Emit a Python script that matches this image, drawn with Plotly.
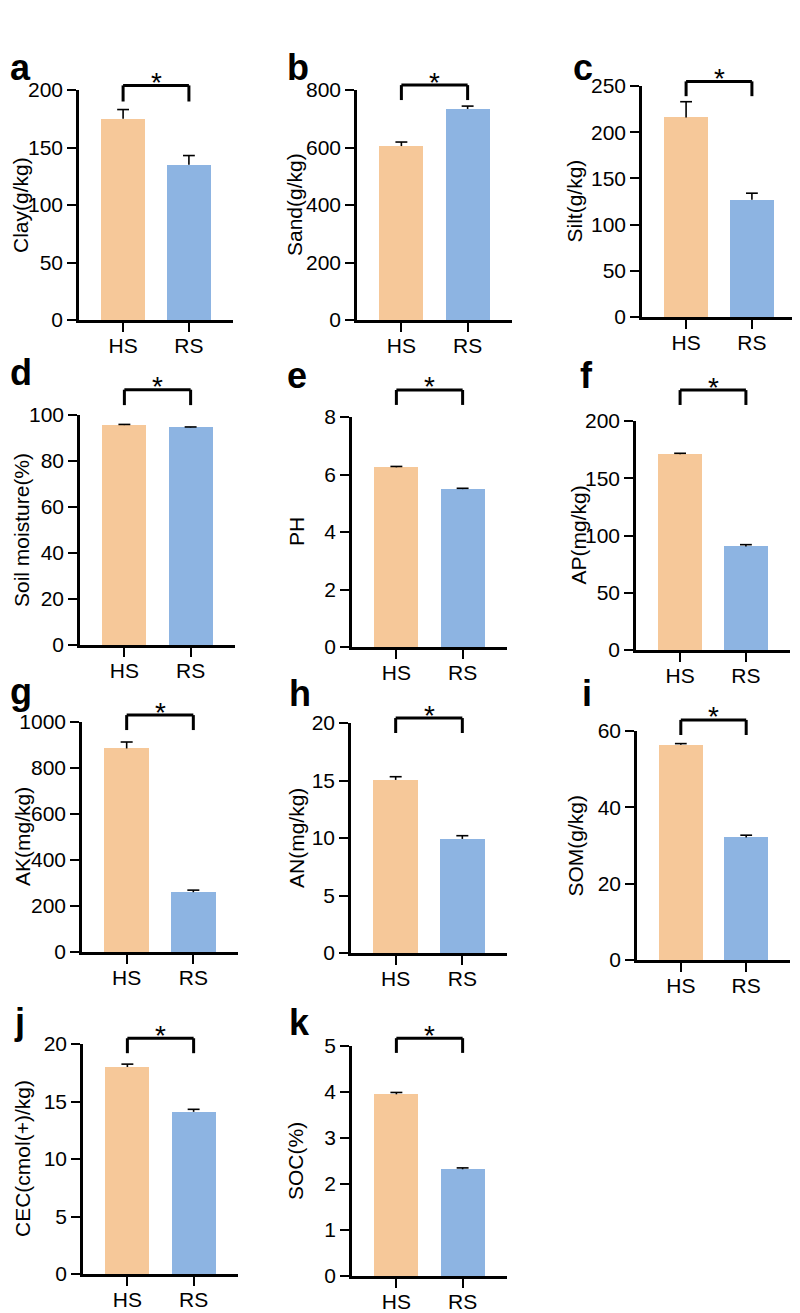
import plotly.graph_objects as go

# ---------------- data ----------------
groups = ["HS", "RS"]
panel_letters = ["a", "b", "c", "d", "e", "f", "g", "h", "i", "j", "k"]
y_titles = ["Clay(g/kg)", "Sand(g/kg)", "Silt(g/kg)", "Soil moisture(%)", "PH",
            "AP(mg/kg)", "AK(mg/kg)", "AN(mg/kg)", "SOM(g/kg)",
            "CEC(cmol(+)/kg)", "SOC(%)"]
hs_mean = [175, 605, 216, 95.6, 6.25, 171, 885, 15.05, 56.4, 18.0, 3.95]
rs_mean = [135, 734, 127, 94.6, 5.49, 90.5, 260, 9.92, 32.1, 14.1, 2.32]
hs_err = [8, 14, 17, 0.3, 0.03, 0.8, 28, 0.28, 0.3, 0.25, 0.04]
rs_err = [8, 10, 7, 0.2, 0.03, 1.5, 9, 0.28, 0.6, 0.22, 0.03]
y_max = [200, 800, 250, 100, 8, 200, 1000, 20, 60, 20, 5]
y_dtick = [50, 200, 50, 20, 2, 50, 200, 5, 20, 5, 1]
significance = ["*"] * 11
bracket_top = [204, 817, 255, 111, 8.94, 227, 1030, 20.43, 62.9, 20.5, 5.17]
bracket_end = [190, 765, 239, 104.3, 8.42, 214, 965, 19.13, 58.95, 19.2, 4.85]

# ---------------- layout geometry (page pixels) ----------------
OFF = 8                      # default body margin of the html page
W, H = 800 - OFF, 1313 - OFF
# (axis_x, axis_end_x, top_y, zero_y) in page pixels
boxes = [
    (79, 233, 90, 320), (357, 512, 90, 320), (642, 796, 86, 317),
    (80, 235, 415, 645), (352, 507, 417, 647), (636, 790, 421, 650),
    (82, 238, 722, 952), (351, 507, 723, 953), (637, 790, 731, 960),
    (83, 238, 1044, 1274), (352, 507, 1046, 1276),
]
title_offset = [59, 63, 68, 59, 56, 58, 60, 55, 62, 61, 57]
# panel letter (left x, baseline y) in page pixels
letter_pos = [(8, 80), (285, 80), (571, 80), (8, 385), (285, 387), (578, 387),
              (8, 703), (287, 705), (580, 705), (12, 1033), (287, 1034)]


def px(v):
    return (v - OFF) / W


def py(v):
    return 1 - (v - OFF) / H


HS_COLOR = "#F6C899"
RS_COLOR = "#8DB4E2"
FONT = "Arial, Liberation Sans, sans-serif"
CAP = 0.09   # half width of error-bar caps (category units)

fig = go.Figure()
layout = dict(width=W, height=H, margin=dict(l=0, r=0, t=0, b=0),
              paper_bgcolor="white", plot_bgcolor="white", showlegend=False,
              bargap=0)
shapes = []
annotations = []

for i in range(len(panel_letters)):
    n = "" if i == 0 else str(i + 1)
    xa, ya = "x" + n, "y" + n
    ax0, ax1, ytop, yzero = boxes[i]
    means = [hs_mean[i], rs_mean[i]]
    errs = [hs_err[i], rs_err[i]]
    fig.add_trace(go.Bar(
        x=[0, 1], y=means, width=0.667,
        marker=dict(color=[HS_COLOR, RS_COLOR], line=dict(width=0)),
        xaxis=xa, yaxis=ya, hoverinfo="skip"))
    # upper error bars: stem + cap
    ex, ey = [], []
    for k in range(2):
        top = means[k] + errs[k]
        ex += [k, k, None, k - CAP, k + CAP, None]
        ey += [means[k], top, None, top, top, None]
    fig.add_trace(go.Scatter(
        x=ex, y=ey, mode="lines", line=dict(color="black", width=1.6),
        xaxis=xa, yaxis=ya, hoverinfo="skip", cliponaxis=False))
    layout["xaxis" + n] = dict(
        domain=[px(ax0), px(ax1)], anchor=ya, range=[-0.67, 1.67],
        tickvals=[0, 1], ticktext=groups, ticks="outside", ticklen=9,
        tickwidth=2, tickcolor="black", showline=True, linewidth=2.5,
        linecolor="black", showgrid=False, zeroline=False, automargin=False,
        ticklabelstandoff=-4,
        tickfont=dict(family=FONT, size=21, color="black"), fixedrange=True)
    layout["yaxis" + n] = dict(
        domain=[py(yzero), py(ytop)], anchor=xa,
        range=[0, y_max[i]], dtick=y_dtick[i], tick0=0, ticks="outside",
        ticklen=9, tickwidth=2, tickcolor="black", showline=True,
        linewidth=2.5, linecolor="black", showgrid=False, zeroline=False,
        automargin=False, ticklabelstandoff=0,
        tickfont=dict(family=FONT, size=21, color="black"), fixedrange=True)
    # y axis title
    annotations.append(dict(
        text=y_titles[i], xref="paper", yref="paper",
        x=px(ax0 - title_offset[i]), y=py((ytop + yzero) / 2),
        xanchor="center", yanchor="middle", textangle=-90, showarrow=False,
        font=dict(family=FONT, size=21, color="black")))
    # panel letter
    lx, lb = letter_pos[i]
    annotations.append(dict(
        text="<b>" + panel_letters[i] + "</b>", xref="paper", yref="paper",
        x=px(lx), y=py(lb - 12), xanchor="left", yanchor="middle",
        showarrow=False, font=dict(family=FONT, size=36, color="black")))
    # significance bracket
    t = bracket_top[i] / y_max[i]
    e = bracket_end[i] / y_max[i]
    dref = ya + " domain"
    for (x0_, y0_, x1_, y1_) in [(0, e, 0, t), (0, t, 1, t), (1, t, 1, e)]:
        shapes.append(dict(type="line", xref=xa, yref=dref, x0=x0_, x1=x1_,
                           y0=y0_, y1=y1_, line=dict(color="black", width=3)))
    annotations.append(dict(
        text=significance[i], xref=xa, yref=dref, x=0.5, y=t,
        xanchor="center", yanchor="middle", yshift=3, showarrow=False,
        font=dict(family=FONT, size=28, color="black")))

layout["shapes"] = shapes
layout["annotations"] = annotations
fig.update_layout(**layout)
fig.write_html("out.html")
